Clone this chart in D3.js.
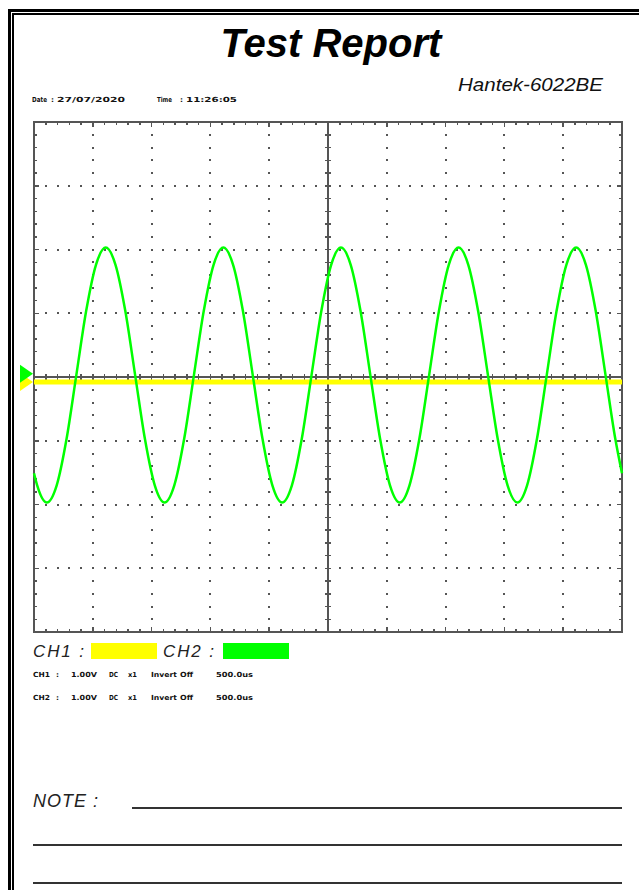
<!DOCTYPE html>
<html>
<head>
<meta charset="utf-8">
<script src="https://cdn.jsdelivr.net/npm/d3@7"></script>
<style>
  html, body { margin: 0; padding: 0; background: #fff; }
  svg { display: block; }
</style>
</head>
<body>
<script>
// ---- report header ----
const reportTitle = "Test Report";
const deviceName = "Hantek-6022BE";
const headerTokens = ["Date", ":", "27/07/2020", "Time", ":", "11:26:05"];

// ---- channels ----
const channelNames = ["CH1", "CH2"];
const channelColors = ["#ffff00", "#00ff00"];
const ch1Settings = ["CH1", ":", "1.00V", "DC", "x1", "Invert", "Off", "500.0us"];
const ch2Settings = ["CH2", ":", "1.00V", "DC", "x1", "Invert", "Off", "500.0us"];

// ---- acquisition (time in ms, 500us/div, 10 div; volts at 1V/div, 8 div) ----
const timeDomain = [0, 5];
const voltDomain = [-4, 4];
const timeDivs = 10, voltDivs = 8, subDivs = 5;

const ch1Time  = [0, 1, 2, 3, 4, 5];
const ch1Volts = [-0.08, -0.08, -0.08, -0.08, -0.08, -0.08];
const ch1ZeroLevel = -0.08;

const ch2Time = [
  0.000, 0.027,
  0.110, 0.193, 0.277, 0.360, 0.443, 0.527, 0.610, 0.693, 0.777, 0.860, 0.943, 1.027,
  1.110, 1.193, 1.277, 1.360, 1.443, 1.527, 1.610, 1.693, 1.777, 1.860, 1.943, 2.027,
  2.110, 2.193, 2.277, 2.360, 2.443, 2.527, 2.610, 2.693, 2.777, 2.860, 2.943, 3.027,
  3.110, 3.193, 3.277, 3.360, 3.443, 3.527, 3.610, 3.693, 3.777, 3.860, 3.943, 4.027,
  4.110, 4.193, 4.277, 4.360, 4.443, 4.527, 4.610, 4.693, 4.777, 4.860, 4.943, 5.000
];
const ch2Volts = [
  -1.51, -1.70,
  -1.97, -1.70, -0.97, 0.03, 1.03, 1.76, 2.03, 1.76, 1.03, 0.03, -0.97, -1.70,
  -1.97, -1.70, -0.97, 0.03, 1.03, 1.76, 2.03, 1.76, 1.03, 0.03, -0.97, -1.70,
  -1.97, -1.70, -0.97, 0.03, 1.03, 1.76, 2.03, 1.76, 1.03, 0.03, -0.97, -1.70,
  -1.97, -1.70, -0.97, 0.03, 1.03, 1.76, 2.03, 1.76, 1.03, 0.03, -0.97, -1.70,
  -1.97, -1.70, -0.97, 0.03, 1.03, 1.76, 2.03, 1.76, 1.03, 0.03, -0.97, -1.51
];
const ch2ZeroLevel = 0.05;

const noteLabel = "NOTE :";

(function draw() {
  const W = 639, H = 890;
  const svg = d3.select("body").append("svg").attr("width", W).attr("height", H);
  svg.append("rect").attr("width", W).attr("height", H).attr("fill", "#fff");

  // double page border (top and left)
  svg.append("path").attr("d", "M9.5,890 V10.5 H639")
    .attr("fill", "none").attr("stroke", "#000").attr("stroke-width", 3);
  svg.append("path").attr("d", "M13,890 V14 H639")
    .attr("fill", "none").attr("stroke", "#000").attr("stroke-width", 2);

  // title
  svg.append("text").attr("x", 331).attr("y", 57).attr("text-anchor", "middle")
    .attr("font-family", "Liberation Sans, Arial, sans-serif")
    .attr("font-weight", "bold").attr("font-style", "italic").attr("font-size", 40)
    .attr("fill", "#000").text(reportTitle);

  svg.append("text").attr("x", 458).attr("y", 91)
    .attr("font-family", "Liberation Sans, Arial, sans-serif")
    .attr("font-style", "italic").attr("font-size", 19)
    .attr("textLength", 145).attr("lengthAdjust", "spacingAndGlyphs")
    .attr("fill", "#111").text(deviceName);

  // tiny bold text rows
  function tinyRow(tokens, xs, ws, yy) {
    svg.append("g").selectAll("text").data(tokens).join("text")
      .attr("x", (d, i) => xs[i]).attr("y", yy)
      .attr("font-family", "DejaVu Sans, sans-serif").attr("font-weight", "bold")
      .attr("font-size", 7).attr("fill", "#111")
      .attr("textLength", (d, i) => ws[i]).attr("lengthAdjust", "spacingAndGlyphs")
      .text(d => d);
  }
  tinyRow(headerTokens, [32, 51, 57, 157, 180, 186], [15, 3, 68, 15, 3, 51], 102);

  // ---- scope screen ----
  const pL = 34, pR = 622, pT = 122, pB = 632;
  const x = d3.scaleLinear().domain(timeDomain).range([pL, pR]);
  const y = d3.scaleLinear().domain(voltDomain).range([pB, pT]);

  const tStep = (timeDomain[1] - timeDomain[0]) / timeDivs;
  const vStep = (voltDomain[1] - voltDomain[0]) / voltDivs;
  const majorT = d3.range(timeDivs + 1).map(i => timeDomain[0] + i * tStep);
  const majorV = d3.range(voltDivs + 1).map(i => voltDomain[0] + i * vStep);
  const minorT = d3.range(timeDivs * subDivs + 1).map(i => timeDomain[0] + i * tStep / subDivs);
  const minorV = d3.range(voltDivs * subDivs + 1).map(i => voltDomain[0] + i * vStep / subDivs);
  const midT = (timeDomain[0] + timeDomain[1]) / 2;
  const midV = (voltDomain[0] + voltDomain[1]) / 2;
  const near = (a, b) => Math.abs(a - b) < 1e-9;

  const grid = svg.append("g").attr("fill", "#555");
  // dotted grid lines: dots at each minor step along every major line
  majorV.filter(v => !near(v, midV) && !near(v, voltDomain[0]) && !near(v, voltDomain[1])).forEach(v => {
    grid.append("g").selectAll("rect").data(minorT).join("rect")
      .attr("x", d => Math.round(x(d)) - 1).attr("y", Math.round(y(v)) - 1)
      .attr("width", 2).attr("height", 2);
  });
  majorT.filter(t => !near(t, midT) && !near(t, timeDomain[0]) && !near(t, timeDomain[1])).forEach(t => {
    grid.append("g").selectAll("rect").data(minorV).join("rect")
      .attr("x", Math.round(x(t)) - 1).attr("y", d => Math.round(y(d)) - 1)
      .attr("width", 2).attr("height", 2);
  });

  const ink = svg.append("g").attr("stroke", "#555").attr("shape-rendering", "crispEdges");
  // center cross
  ink.append("line").attr("x1", x(midT)).attr("x2", x(midT)).attr("y1", pT).attr("y2", pB).attr("stroke-width", 1.5);
  ink.append("line").attr("x1", pL).attr("x2", pR).attr("y1", y(midV)).attr("y2", y(midV)).attr("stroke-width", 1.5);
  // ticks on the center cross
  ink.append("g").selectAll("line").data(minorT).join("line")
    .attr("x1", d => x(d)).attr("x2", d => x(d))
    .attr("y1", y(midV) - 3).attr("y2", y(midV) + 3).attr("stroke-width", 1.5);
  ink.append("g").selectAll("line").data(minorV).join("line")
    .attr("y1", d => y(d)).attr("y2", d => y(d))
    .attr("x1", x(midT) - 3).attr("x2", x(midT) + 3).attr("stroke-width", 1.5);
  // ticks on frame edges
  const isMajorT = d => majorT.some(m => near(m, d));
  const isMajorV = d => majorV.some(m => near(m, d));
  ink.append("g").selectAll("line").data(minorT).join("line")
    .attr("x1", d => x(d)).attr("x2", d => x(d))
    .attr("y1", pT).attr("y2", d => pT + (isMajorT(d) ? 5 : 3)).attr("stroke-width", 1.5);
  ink.append("g").selectAll("line").data(minorT).join("line")
    .attr("x1", d => x(d)).attr("x2", d => x(d))
    .attr("y1", pB).attr("y2", d => pB - (isMajorT(d) ? 5 : 3)).attr("stroke-width", 1.5);
  ink.append("g").selectAll("line").data(minorV).join("line")
    .attr("y1", d => y(d)).attr("y2", d => y(d))
    .attr("x1", pL).attr("x2", d => pL + (isMajorV(d) ? 5 : 3)).attr("stroke-width", 1.5);
  ink.append("g").selectAll("line").data(minorV).join("line")
    .attr("y1", d => y(d)).attr("y2", d => y(d))
    .attr("x1", pR).attr("x2", d => pR - (isMajorV(d) ? 5 : 3)).attr("stroke-width", 1.5);
  // frame
  ink.append("rect").attr("x", pL).attr("y", pT).attr("width", pR - pL).attr("height", pB - pT)
    .attr("fill", "none").attr("stroke-width", 2);

  // traces
  const line = d3.line().x(d => x(d[0])).y(d => y(d[1]));
  svg.append("path").datum(d3.zip(ch1Time, ch1Volts))
    .attr("d", line).attr("fill", "none").attr("stroke", channelColors[0]).attr("stroke-width", 5);
  svg.append("path").datum(d3.zip(ch2Time, ch2Volts))
    .attr("d", line.curve(d3.curveMonotoneX)).attr("fill", "none")
    .attr("stroke", channelColors[1]).attr("stroke-width", 2.5);

  // channel zero markers
  function marker(level, color) {
    const cy = y(level);
    svg.append("path").attr("d", `M20,${cy - 9} L33,${cy} L20,${cy + 9} Z`).attr("fill", color);
  }
  marker(ch1ZeroLevel, channelColors[0]);
  marker(ch2ZeroLevel, channelColors[1]);

  // ---- legend ----
  const legendX = [33, 163], swatchX = [91, 223];
  channelNames.forEach((name, i) => {
    svg.append("text").attr("x", legendX[i]).attr("y", 657)
      .attr("font-family", "Liberation Sans, Arial, sans-serif")
      .attr("font-style", "italic").attr("font-size", 17).attr("fill", "#222")
      .attr("textLength", 51).attr("lengthAdjust", "spacing")
      .text(name + " :");
    svg.append("rect").attr("x", swatchX[i]).attr("y", 643).attr("width", 66).attr("height", 16)
      .attr("fill", channelColors[i]);
  });

  const settingX = [33, 56, 71, 109, 128, 151, 180, 216];
  const settingW = [17, 3, 26, 9, 9, 26, 13, 37];
  tinyRow(ch1Settings, settingX, settingW, 677);
  tinyRow(ch2Settings, settingX, settingW, 700);

  // ---- notes ----
  svg.append("text").attr("x", 33).attr("y", 807)
    .attr("font-family", "Liberation Sans, Arial, sans-serif")
    .attr("font-style", "italic").attr("font-size", 18).attr("fill", "#222")
    .attr("textLength", 65).attr("lengthAdjust", "spacing")
    .text(noteLabel);
  const noteLines = [[132, 808], [33, 845], [33, 883]];
  svg.append("g").selectAll("line").data(noteLines).join("line")
    .attr("x1", d => d[0]).attr("x2", 622).attr("y1", d => d[1]).attr("y2", d => d[1])
    .attr("stroke", "#333").attr("stroke-width", 2);
})();
</script>
</body>
</html>
